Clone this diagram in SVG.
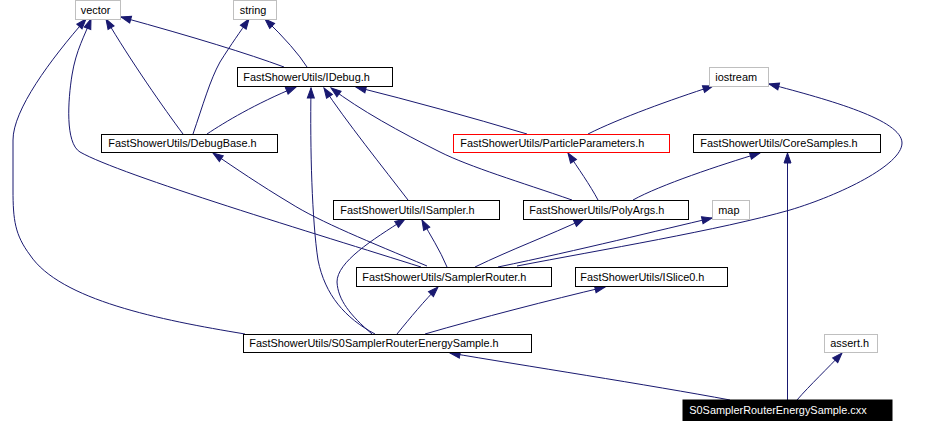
<svg xmlns="http://www.w3.org/2000/svg" width="933" height="421" viewBox="0 0 933 421">
<style>
.n rect{fill:#ffffff;stroke:#000000;stroke-width:1}
.n.g rect{stroke:#bfbfbf}
.n.r rect{stroke:#ff0000}
.n.b rect{fill:#000000;stroke:#000000}
.n text{font-family:"Liberation Sans",Arial,sans-serif;font-size:10.9px;fill:#000000}
.n.b text{fill:#ffffff}
#edges path{fill:none;stroke:#191970;stroke-width:1;marker-end:url(#arr)}
</style>
<defs>
<marker id="arr" markerWidth="12" markerHeight="9" refX="10" refY="3.5" orient="auto" markerUnits="userSpaceOnUse" overflow="visible">
<path d="M0,0 L10,3.5 L0,7 z" fill="#191970" stroke="#191970" stroke-width="1"/>
</marker>
</defs>
<rect width="933" height="421" fill="#ffffff"/>
<g id="edges">
<path d="M284,67 Q230,47 121,17"/>
<path d="M307,67 Q295,48 265,19"/>
<path d="M183,134 C165,110 130,60 106,19"/>
<path d="M193,134 C203,105 210,80 220,62 C232,43 240,32 249,19"/>
<path d="M207,134 C225,122 255,104 296,87"/>
<path d="M421,267 C320,235 120,175 80,152 C65,143 68,100 72,75 C76,50 85,35 91,19"/>
<path d="M245,334 C160,320 60,300 30,255 C15,235 13,220 13,190 L13,140 C13,110 50,60 86,19"/>
<path d="M427,266 C370,242 320,222 290,203 C260,185 235,168 213,153"/>
<path d="M527,134 Q440,108 356,87"/>
<path d="M572,200 C520,182 470,167 440,152 C400,132 360,110 331,88"/>
<path d="M408,200 C385,170 345,120 324,88"/>
<path d="M375,334 C345,318 325,295 318,260 C312,220 310,150 311,88"/>
<path d="M588,134 C620,118 670,100 713,86"/>
<path d="M517,266 C600,250 720,230 790,210 C840,195 902,165 902,143 C902,120 830,100 769,84"/>
<path d="M598,200 C590,185 578,168 568,153"/>
<path d="M633,200 C660,185 720,165 760,153"/>
<path d="M787.5,400 L787.5,153"/>
<path d="M447,267 C440,250 430,235 422,220"/>
<path d="M372,334 C350,315 338,300 337,282 C337,262 372,240 405,219"/>
<path d="M475,267 C510,250 550,235 584,219"/>
<path d="M498,267 C580,250 660,230 712,218"/>
<path d="M397,334 C410,318 425,300 438,287"/>
<path d="M425,334 C480,318 550,300 605,287"/>
<path d="M730,400 C650,385 520,365 450,353"/>
<path d="M797,400 C810,385 828,368 842,353"/>
</g>
<g id="vector" class="n g"><rect x="75.5" y="0.5" width="45" height="19"/><text x="80.7" y="13.5">vector</text></g>
<g id="string" class="n g"><rect x="233.5" y="0.5" width="43" height="19"/><text x="239.7" y="13.5">string</text></g>
<g id="IDebug" class="n"><rect x="237.5" y="67.5" width="155" height="19"/><text x="243.3" y="81">FastShowerUtils/IDebug.h</text></g>
<g id="iostream" class="n g"><rect x="709.5" y="67.5" width="59" height="19"/><text x="715.3" y="81">iostream</text></g>
<g id="DebugBase" class="n"><rect x="101.5" y="134.5" width="176" height="18"/><text x="108.3" y="147">FastShowerUtils/DebugBase.h</text></g>
<g id="ParticleParameters" class="n r"><rect x="453.5" y="134.5" width="216" height="18"/><text x="460.3" y="147">FastShowerUtils/ParticleParameters.h</text></g>
<g id="CoreSamples" class="n"><rect x="693.5" y="134.5" width="187" height="18"/><text x="700.3" y="147">FastShowerUtils/CoreSamples.h</text></g>
<g id="ISampler" class="n"><rect x="333.5" y="200.5" width="166" height="19"/><text x="340.3" y="213.5">FastShowerUtils/ISampler.h</text></g>
<g id="PolyArgs" class="n"><rect x="523.5" y="200.5" width="165" height="19"/><text x="529.3" y="213.5">FastShowerUtils/PolyArgs.h</text></g>
<g id="map" class="n g"><rect x="712.5" y="200.5" width="37" height="19"/><text x="718.3" y="213.5">map</text></g>
<g id="SamplerRouter" class="n"><rect x="356.5" y="267.5" width="195" height="19"/><text x="362.3" y="281">FastShowerUtils/SamplerRouter.h</text></g>
<g id="ISlice0" class="n"><rect x="575.5" y="267.5" width="152" height="19"/><text x="580.3" y="281">FastShowerUtils/ISlice0.h</text></g>
<g id="S0SamplerRouterEnergySampleH" class="n"><rect x="243.5" y="334.5" width="288" height="18"/><text x="249.3" y="347">FastShowerUtils/S0SamplerRouterEnergySample.h</text></g>
<g id="assert" class="n g"><rect x="824.5" y="334.5" width="53" height="18"/><text x="830.3" y="347">assert.h</text></g>
<g id="cxx" class="n b"><rect x="683" y="400" width="209" height="21"/><text x="689.3" y="413.5">S0SamplerRouterEnergySample.cxx</text></g>
</svg>
